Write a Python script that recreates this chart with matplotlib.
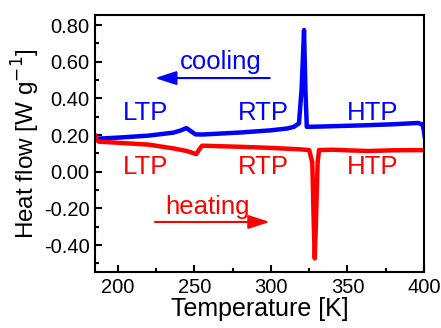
import matplotlib
matplotlib.use("Agg")
import matplotlib.pyplot as plt
from matplotlib.ticker import MultipleLocator, FormatStrFormatter

plt.rcParams['font.family'] = ['Liberation Sans', 'DejaVu Sans']

# cooling curve (blue)
cool_T = [185.5, 200, 220, 236, 241, 244.7, 247, 250.6, 255, 280, 300, 310.7, 315, 318.3,
          320, 321.6, 322.5, 323.4, 330, 360, 380, 396, 399, 400, 400.5]
cool_H = [0.180, 0.186, 0.197, 0.213, 0.225, 0.238, 0.225, 0.204, 0.203, 0.214, 0.226, 0.236,
          0.245, 0.264, 0.45, 0.773, 0.45, 0.245, 0.246, 0.253, 0.259, 0.266, 0.258, 0.22, 0.185]

# heating curve (red)
heat_T = [185.3, 186, 187.5, 200, 220, 236.4, 245, 251.2, 253, 255, 280, 300, 319.4, 325,
          327, 328, 328.6, 329.3, 330.5, 331.4, 340, 363, 380, 400]
heat_H = [0.20, 0.175, 0.164, 0.158, 0.148, 0.127, 0.113, 0.096, 0.12, 0.142, 0.136, 0.130,
          0.122, 0.118, 0.05, -0.3, -0.473, -0.3, 0.05, 0.118, 0.120, 0.113, 0.117, 0.118]

fig = plt.figure(figsize=(4.41, 3.28), dpi=100)
ax = fig.add_axes([95 / 441, 1 - 272 / 328, 329 / 441, 257 / 328])

ax.plot(cool_T, cool_H, color='#0000ff', lw=3.2, solid_capstyle='round', solid_joinstyle='round')
ax.plot(heat_T, heat_H, color='#ff0000', lw=3.2, solid_capstyle='round', solid_joinstyle='round')

ax.set_xlim(185, 400)
ax.set_ylim(-0.547, 0.855)
ax.xaxis.set_major_locator(MultipleLocator(50))
ax.xaxis.set_minor_locator(MultipleLocator(25))
ax.yaxis.set_major_locator(MultipleLocator(0.2))
ax.yaxis.set_minor_locator(MultipleLocator(0.1))
ax.yaxis.set_major_formatter(FormatStrFormatter('%.2f'))
ax.tick_params(which='both', direction='in', labelsize=14.5, width=1.5, pad=4)
ax.tick_params(which='major', length=5)
ax.tick_params(which='minor', length=3)
ax.tick_params(axis='x', which='both', top=False)
ax.tick_params(axis='y', which='both', right=False)
for s in ax.spines.values():
    s.set_linewidth(1.5)

ax.set_xlabel('Temperature [K]', fontsize=18, labelpad=0)
ax.set_ylabel('Heat flow [W g$^{-1}$]', fontsize=17.5, labelpad=1)

for x, lab in [(217.8, 'LTP'), (295.2, 'RTP'), (366.6, 'HTP')]:
    ax.text(x, 0.32, lab, color='#0000ff', fontsize=18.5, ha='center', va='center')
    ax.text(x, 0.026, lab, color='#ff0000', fontsize=18.5, ha='center', va='center')

arrow = '-|>,head_length=1.3,head_width=0.42'
ax.text(267, 0.598, 'cooling', color='#0000ff', fontsize=18.5, ha='center', va='center')
ax.annotate('', xy=(222.4, 0.511), xytext=(301, 0.511),
            arrowprops=dict(arrowstyle=arrow, color='#0000ff', lw=1.5))
ax.text(258.4, -0.193, 'heating', color='#ff0000', fontsize=18.5, ha='center', va='center')
ax.annotate('', xy=(301, -0.274), xytext=(222.4, -0.274),
            arrowprops=dict(arrowstyle=arrow, color='#ff0000', lw=1.5))

fig.savefig('out.png', dpi=100)
